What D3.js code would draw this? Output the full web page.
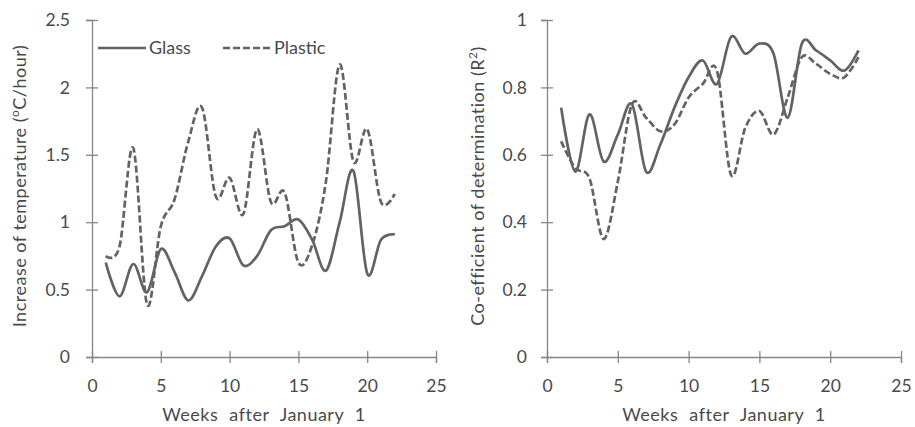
<!DOCTYPE html>
<html>

<head>
    <title>Glass vs Plastic</title>
    <script src="https://d3js.org/d3.v7.min.js"></script>
    <style>
        body {
            margin: 0;
            background: #fff;
        }

        text {
            font-family: Lato, "Open Sans", sans-serif;
            fill: #4a4a4a;
        }

        .axis path,
        .axis line {
            stroke: #868686;
            stroke-width: 1.3;
        }

        .line {
            fill: none;
            stroke: #636363;
            stroke-width: 2.7;
        }

        .title {
            font-size: 18px;
            letter-spacing: 0.5px;
        }
    </style>
</head>

<body>
<script>
    var weeks = d3.range(1, 23);

    // left chart: increase of temperature (oC/hour)
    var tempGlass = [0.70, 0.45, 0.69, 0.48, 0.80, 0.63, 0.42, 0.60, 0.82, 0.88, 0.68,
        0.75, 0.94, 0.97, 1.02, 0.87, 0.64, 1.00, 1.38, 0.62, 0.87, 0.91];
    var tempPlastic = [0.75, 0.82, 1.55, 0.39, 0.97, 1.17, 1.60, 1.85, 1.19, 1.33, 1.06,
        1.69, 1.15, 1.22, 0.70, 0.83, 1.30, 2.17, 1.45, 1.69, 1.15, 1.21];

    // right chart: co-efficient of determination (R2)
    var r2Glass = [0.74, 0.55, 0.72, 0.58, 0.66, 0.75, 0.55, 0.63, 0.74, 0.83, 0.88,
        0.81, 0.95, 0.90, 0.93, 0.90, 0.71, 0.93, 0.91, 0.88, 0.85, 0.91];
    var r2Plastic = [0.64, 0.56, 0.53, 0.35, 0.52, 0.75, 0.71, 0.67, 0.69, 0.77, 0.81,
        0.85, 0.54, 0.68, 0.73, 0.66, 0.77, 0.89, 0.87, 0.84, 0.83, 0.89];

    var xTicks = [0, 5, 10, 15, 20, 25];
    var leftYTicks = [0, 0.5, 1, 1.5, 2, 2.5];
    var leftYLabels = ["0", "0.5", "1", "1.5", "2", "2.5"];
    var rightYTicks = [0, 0.2, 0.4, 0.6, 0.8, 1];
    var rightYLabels = ["0", "0.2", "0.4", "0.6", "0.8", "1"];

    var w = 915;
    var h = 427;

    var svg = d3.select("body")
        .append("svg")
        .attr("width", w)
        .attr("height", h);

    function drawChart(opt) {
        var x = d3.scaleLinear().domain([0, 25]).range([opt.left, opt.right]);
        var y = d3.scaleLinear().domain([0, opt.yMax]).range([357, 20]);

        var g = svg.append("g");

        var xAxis = g.append("g")
            .attr("class", "axis")
            .attr("transform", "translate(0,357)")
            .call(d3.axisBottom(x).tickValues(xTicks).tickSizeOuter(0).tickSize(6).tickPadding(17));
        xAxis.selectAll(".tick line").attr("y1", -6).attr("y2", 6);
        xAxis.selectAll("text").style("font-size", "17.5px");

        var yAxis = g.append("g")
            .attr("class", "axis")
            .attr("transform", "translate(" + opt.left + ",0)")
            .call(d3.axisLeft(y).tickValues(opt.yTicks)
                .tickFormat(function (d, i) { return opt.yLabels[i]; })
                .tickSizeOuter(0).tickSize(6).tickPadding(opt.yPad));
        yAxis.selectAll(".tick line").attr("x1", -6).attr("x2", 6);
        yAxis.selectAll("text").style("font-size", "17.5px");

        g.append("text")
            .attr("class", "title")
            .attr("x", (opt.left + opt.right) / 2)
            .attr("y", 421)
            .attr("text-anchor", "middle")
            .style("word-spacing", "6px")
            .text("Weeks after January 1");

        var yt = g.append("text")
            .attr("class", "title")
            .attr("transform", "translate(" + opt.titleX + ",186) rotate(-90)")
            .attr("text-anchor", "middle");
        opt.title(yt);

        var line = d3.line()
            .curve(d3.curveCatmullRom.alpha(0))
            .x(function (d, i) { return x(weeks[i]); })
            .y(function (d) { return y(d); });

        g.append("path")
            .attr("class", "line")
            .attr("d", line(opt.glass));

        g.append("path")
            .attr("class", "line")
            .attr("stroke-dasharray", "7,3")
            .attr("d", line(opt.plastic));
    }

    drawChart({
        left: 92, right: 436, yMax: 2.5, yTicks: leftYTicks, yLabels: leftYLabels, yPad: 16,
        titleX: 26, glass: tempGlass, plastic: tempPlastic,
        title: function (t) {
            t.append("tspan").text("Increase of temperature (");
            t.append("tspan").attr("baseline-shift", "super").style("font-size", "12px").text("o");
            t.append("tspan").text("C/hour)");
        }
    });

    drawChart({
        left: 547, right: 901, yMax: 1, yTicks: rightYTicks, yLabels: rightYLabels, yPad: 14,
        titleX: 484, glass: r2Glass, plastic: r2Plastic,
        title: function (t) {
            t.append("tspan").text("Co-efficient of determination (R");
            t.append("tspan").attr("baseline-shift", "super").style("font-size", "12px").text("2");
            t.append("tspan").text(")");
        }
    });

    // legend
    var legend = svg.append("g").attr("transform", "translate(98,48)");
    var legendItems = [
        { name: "Glass", dash: null, x: 0 },
        { name: "Plastic", dash: "7,3", x: 125 }
    ];
    legendItems.forEach(function (d) {
        legend.append("line")
            .attr("class", "line")
            .attr("x1", d.x).attr("x2", d.x + 48)
            .attr("stroke-dasharray", d.dash);
        legend.append("text")
            .attr("x", d.x + 51)
            .attr("y", 6)
            .style("font-size", "18px")
            .text(d.name);
    });
</script>
</body>

</html>
